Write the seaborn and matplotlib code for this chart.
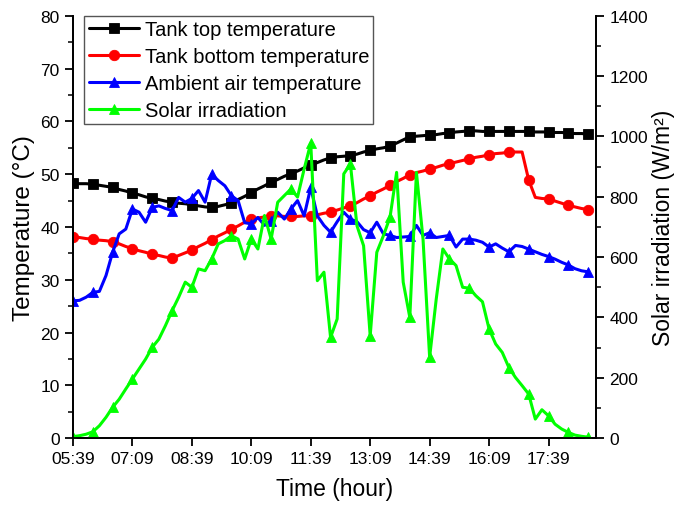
import numpy as np
import pandas as pd
import matplotlib
matplotlib.use("Agg")
import matplotlib.pyplot as plt
import seaborn as sns
from matplotlib.ticker import FixedLocator, MultipleLocator

# minutes after 05:39, sampled every 10 minutes
minutes = np.arange(0, 790, 10)
tick_minutes = [0, 90, 180, 270, 360, 450, 540, 630, 720]
tick_labels = ["05:39", "07:09", "08:39", "10:09", "11:39", "13:09", "14:39", "16:09", "17:39"]

tank_top = [48.3, 48.2, 48.2, 48.1, 47.9, 47.7, 47.5, 47.1, 46.8, 46.4,
            46.1, 45.7, 45.4, 45.2, 44.9, 44.7, 44.5, 44.4, 44.2, 44.0,
            43.8, 43.7, 43.9, 44.2, 44.5, 45.2, 45.8, 46.5, 47.2, 47.8,
            48.5, 49.0, 49.6, 50.1, 50.6, 51.2, 51.7, 52.2, 52.7, 53.1,
            53.3, 53.4, 53.5, 53.8, 54.2, 54.5, 54.8, 55.0, 55.3, 55.9,
            56.5, 57.1, 57.2, 57.3, 57.4, 57.5, 57.7, 57.8, 58.0, 58.1,
            58.2, 58.2, 58.1, 58.1, 58.1, 58.1, 58.1, 58.1, 58.1, 58.1,
            58.0, 58.0, 58.0, 57.9, 57.9, 57.8, 57.7, 57.7, 57.6]

tank_bottom = [38.1, 38.0, 37.8, 37.7, 37.5, 37.4, 37.2, 36.8, 36.3, 35.9,
               35.5, 35.2, 34.8, 34.6, 34.3, 34.1, 34.6, 35.1, 35.6, 36.3,
               36.9, 37.6, 38.3, 38.9, 39.6, 40.2, 40.9, 41.5, 41.7, 41.9,
               42.1, 42.1, 42.0, 42.0, 42.0, 42.1, 42.1, 42.3, 42.6, 42.8,
               43.2, 43.6, 44.0, 44.6, 45.3, 45.9, 46.6, 47.2, 47.9, 48.6,
               49.2, 49.9, 50.3, 50.6, 51.0, 51.3, 51.7, 52.0, 52.3, 52.6,
               52.9, 53.2, 53.4, 53.7, 53.9, 54.0, 54.2, 54.2, 54.2, 48.9,
               45.6, 45.4, 45.3, 44.9, 44.5, 44.1, 43.8, 43.5, 43.3]

ambient = [26.0, 26.1, 26.7, 27.6, 27.8, 30.8, 35.2, 38.7, 39.6, 43.4,
           42.8, 40.9, 43.7, 44.0, 43.5, 43.1, 45.6, 44.7, 45.4, 46.9,
           44.7, 50.0, 48.8, 47.8, 45.9, 45.0, 40.8, 40.6, 41.8, 40.3,
           41.2, 42.8, 41.5, 43.4, 45.0, 42.1, 47.5, 42.1, 40.3, 39.0,
           41.0, 42.8, 41.5, 41.0, 39.5, 38.9, 40.9, 38.7, 38.4, 38.0,
           38.1, 38.2, 40.3, 38.4, 38.9, 38.0, 38.2, 38.4, 36.2, 37.7,
           37.7, 37.5, 37.1, 36.2, 36.8, 36.0, 35.3, 36.5, 36.3, 35.8,
           35.3, 34.8, 34.4, 33.9, 33.3, 32.8, 32.1, 31.7, 31.5]

solar = [5, 8, 13, 21, 41, 69, 102, 129, 163, 196,
         229, 262, 301, 328, 373, 422, 467, 517, 500, 561,
         555, 594, 644, 655, 671, 660, 594, 660, 627, 738,
         660, 782, 804, 826, 799, 892, 978, 522, 550, 334,
         395, 876, 909, 704, 638, 339, 616, 671, 732, 881,
         517, 400, 881, 660, 268, 461, 627, 594, 572, 500,
         497, 472, 452, 362, 312, 284, 234, 201, 174, 146,
         63, 94, 74, 46, 30, 19, 10, 6, 3]

labels = ["Tank top temperature", "Tank bottom temperature",
          "Ambient air temperature", "Solar irradiation"]

df = pd.DataFrame({"t": minutes, "top": tank_top, "bottom": tank_bottom,
                   "amb": ambient, "solar": solar})

sns.set_theme(style="ticks")
plt.rcParams["font.family"] = ["Liberation Sans", "DejaVu Sans"]
plt.rcParams["text.color"] = "black"
plt.rcParams["axes.labelcolor"] = "black"

fig = plt.figure(figsize=(6.82, 5.10), dpi=100)
ax = fig.add_axes([0.107, 0.139, 0.767, 0.828])
ax2 = ax.twinx()

lw = 2.2
ms = 7.5
common = dict(linewidth=lw, markersize=ms, markevery=3, markeredgewidth=0.6)
sns.lineplot(data=df, x="t", y="top", ax=ax, color="#000000", marker="s",
             markeredgecolor="#000000", label=labels[0], legend=False, **common)
sns.lineplot(data=df, x="t", y="bottom", ax=ax, color="#FF0000", marker="o",
             markeredgecolor="#FF0000", label=labels[1], legend=False, **common)
sns.lineplot(data=df, x="t", y="amb", ax=ax, color="#0000FF", marker="^",
             markeredgecolor="#0000FF", label=labels[2], legend=False, **common)
sns.lineplot(data=df, x="t", y="solar", ax=ax2, color="#00FF00", marker="^",
             markeredgecolor="#00FF00", label=labels[3], legend=False, **common)

ax.set_xlim(0, 792)
ax.set_ylim(0, 80)
ax2.set_ylim(0, 1400)

ax.xaxis.set_major_locator(FixedLocator(tick_minutes))
ax.set_xticklabels(tick_labels)
ax.yaxis.set_major_locator(MultipleLocator(10))
ax.yaxis.set_minor_locator(MultipleLocator(5))
ax2.yaxis.set_major_locator(MultipleLocator(200))
ax2.yaxis.set_minor_locator(MultipleLocator(100))

for a in (ax, ax2):
    a.spines["top"].set_visible(False)
    for s in a.spines.values():
        s.set_linewidth(1.3)
        s.set_color("black")
    a.tick_params(which="major", direction="out", length=6, width=1.3,
                  labelsize=12.5, colors="black")
    a.tick_params(which="minor", direction="out", length=3.5, width=1.3)
ax.tick_params(axis="x", which="minor", bottom=False)

ax.set_xlabel("Time (hour)", fontsize=16.5, labelpad=8)
ax.set_ylabel("Temperature (°C)", fontsize=17.5, labelpad=4)
ax2.set_ylabel("Solar irradiation (W/m²)", fontsize=16.5, labelpad=3)

h1, l1 = ax.get_legend_handles_labels()
h2, l2 = ax2.get_legend_handles_labels()
leg = ax2.legend(h1 + h2, l1 + l2, loc="upper left", bbox_to_anchor=(0.022, 1.0),
                 borderaxespad=0, fontsize=14.5, frameon=True, fancybox=False,
                 edgecolor="#555555", framealpha=1, handlelength=2.5,
                 handletextpad=0.3, labelspacing=0.4, borderpad=0.2)
leg.get_frame().set_linewidth(1.0)

fig.savefig("out.png", dpi=100)
